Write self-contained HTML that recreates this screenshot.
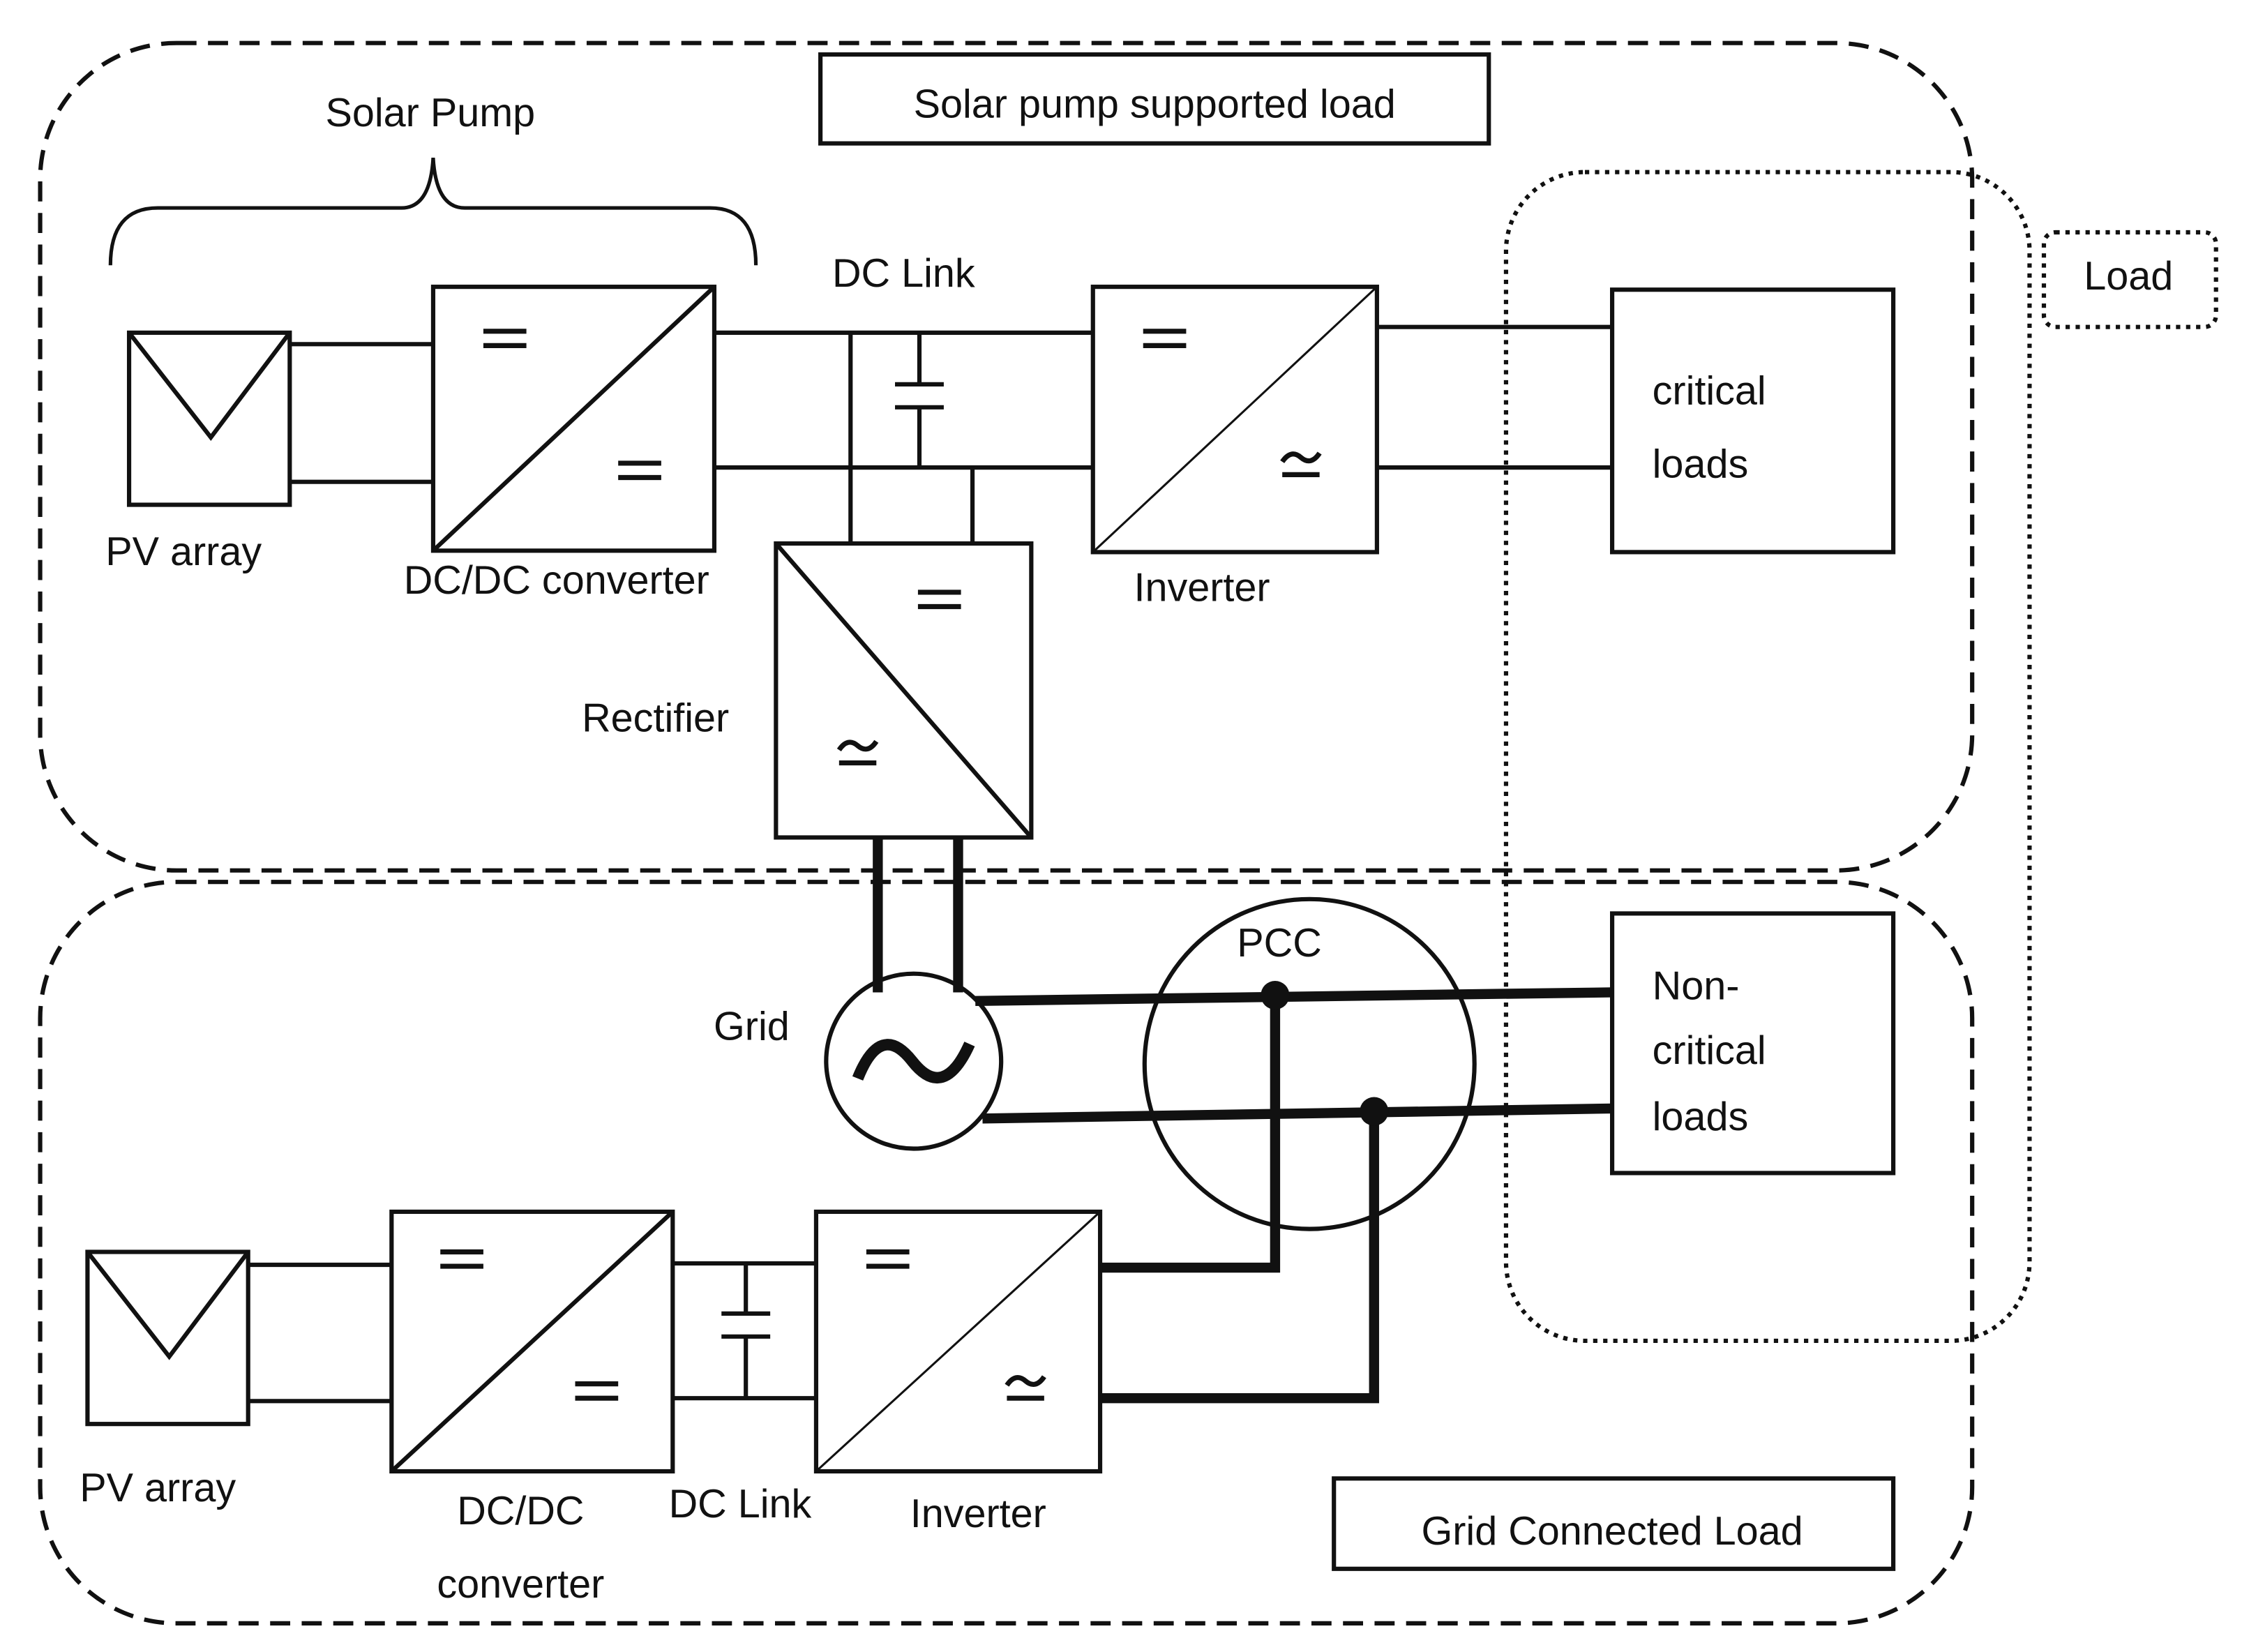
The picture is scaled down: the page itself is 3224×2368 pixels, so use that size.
<!DOCTYPE html>
<html><head><meta charset="utf-8"><style>html,body{margin:0;padding:0;background:#fff}svg{display:block}text{font-family:"Liberation Sans",sans-serif;font-size:28px;fill:#111}</style></head><body>
<svg width="3224" height="2368" viewBox="0 0 1568 1152" preserveAspectRatio="none" xmlns="http://www.w3.org/2000/svg">
<defs>
<g id="eq" fill="none" stroke="#111" stroke-width="3.5"><path d="M-15 -5 H15 M-15 5 H15"/></g>
<g id="ac" fill="none" stroke="#111" stroke-width="3.5"><path d="M-13 0 Q-7 -9 0 -3 Q7 3 13 -6 M-13 9 H13"/></g>
</defs>
<g fill="none" stroke="#111">
<rect x="28" y="30" width="1347" height="577" rx="95" stroke-width="3" stroke-dasharray="14,8"/>
<rect x="28" y="615" width="1347" height="517" rx="95" stroke-width="3" stroke-dasharray="14,8"/>
<rect x="1050" y="120" width="365" height="815" rx="55" stroke-width="3" stroke-dasharray="3,4"/>
<rect x="1425" y="162" width="120" height="66" rx="8" stroke-width="3" stroke-dasharray="3,4"/>
<rect x="572" y="38" width="466" height="62" stroke-width="3"/>
<rect x="930" y="1031" width="390" height="63" stroke-width="3"/>
<path d="M77 185 Q77 145 110 145 L280 145 Q300 145 302 110 Q304 145 324 145 L495 145 Q527 145 527 185" stroke-width="2.5"/>
<rect x="90" y="232" width="112" height="120" stroke-width="3"/>
<path d="M90 232 L147 305 L202 232" stroke-width="3"/>
<path d="M202 240 H302 M202 336 H302" stroke-width="3"/>
<rect x="302" y="200" width="196" height="184" stroke-width="3"/>
<path d="M302 384 L498 200" stroke-width="3"/>
<path d="M498 232 H762 M498 326 H762" stroke-width="3"/>
<path d="M641 232 V268 M641 284 V326 M624 268 H658 M624 284 H658" stroke-width="3"/>
<path d="M593 232 V380 M678 326 V380" stroke-width="3"/>
<rect x="541" y="379" width="178" height="205" stroke-width="3"/>
<path d="M541 379 L719 584" stroke-width="3"/>
<rect x="762" y="200" width="198" height="185" stroke-width="3"/>
<path d="M762 385 L960 200" stroke-width="1.5"/>
<path d="M960 228 H1124 M960 326 H1124" stroke-width="3"/>
<rect x="1124" y="202" width="196" height="183" stroke-width="3"/>
<path d="M612 584 V692 M668 584 V692" stroke-width="7"/>
<circle cx="637" cy="740" r="61" stroke-width="3"/>
<path d="M598 752 Q614 712 636 740 Q658 768 676 728" stroke-width="8"/>
<path d="M680 698 L1124 692 M685 780 L1124 773" stroke-width="7"/>
<circle cx="913" cy="742" r="115" stroke-width="3"/>
<path d="M889 694 V884 H766 M958 775 V975 H766" stroke-width="7"/>
<rect x="1124" y="637" width="196" height="181" stroke-width="3"/>
<rect x="61" y="873" width="112" height="120" stroke-width="3"/>
<path d="M61 873 L118 946 L173 873" stroke-width="3"/>
<path d="M173 882 H273 M173 977 H273" stroke-width="3"/>
<rect x="273" y="845" width="196" height="181" stroke-width="3"/>
<path d="M273 1026 L469 845" stroke-width="3"/>
<path d="M469 881 H569 M469 975 H569" stroke-width="3"/>
<path d="M520 881 V916 M520 932 V975 M503 916 H537 M503 932 H537" stroke-width="3"/>
<rect x="569" y="845" width="198" height="181" stroke-width="3"/>
<path d="M569 1026 L767 845" stroke-width="1.5"/>
</g>
<circle cx="889" cy="694" r="10" fill="#111"/>
<circle cx="958" cy="775" r="10" fill="#111"/>
<use href="#eq" x="352" y="236"/><use href="#eq" x="446" y="328"/>
<use href="#eq" x="655" y="418"/><use href="#ac" x="598" y="523"/>
<use href="#eq" x="812" y="236"/><use href="#ac" x="907" y="322"/>
<use href="#eq" x="322" y="878"/><use href="#eq" x="416" y="970"/>
<use href="#eq" x="619" y="878"/><use href="#ac" x="715" y="966"/>
<g text-anchor="middle">
<text x="805" y="82">Solar pump supported load</text>
<text x="300" y="88">Solar Pump</text>
<text x="1484" y="202">Load</text>
<text x="630" y="200">DC Link</text>
<text x="128" y="394">PV array</text>
<text x="388" y="414">DC/DC converter</text>
<text x="838" y="419">Inverter</text>
<text x="457" y="510">Rectifier</text>
<text x="524" y="725">Grid</text>
<text x="892" y="667">PCC</text>
<text x="110" y="1047">PV array</text>
<text x="363" y="1063">DC/DC</text>
<text x="363" y="1114">converter</text>
<text x="516" y="1058">DC Link</text>
<text x="682" y="1065">Inverter</text>
<text x="1124" y="1077">Grid Connected Load</text>
</g>
<text x="1152" y="282">critical</text>
<text x="1152" y="333">loads</text>
<text x="1152" y="697">Non-</text>
<text x="1152" y="742">critical</text>
<text x="1152" y="788">loads</text>
</svg>
</body></html>
